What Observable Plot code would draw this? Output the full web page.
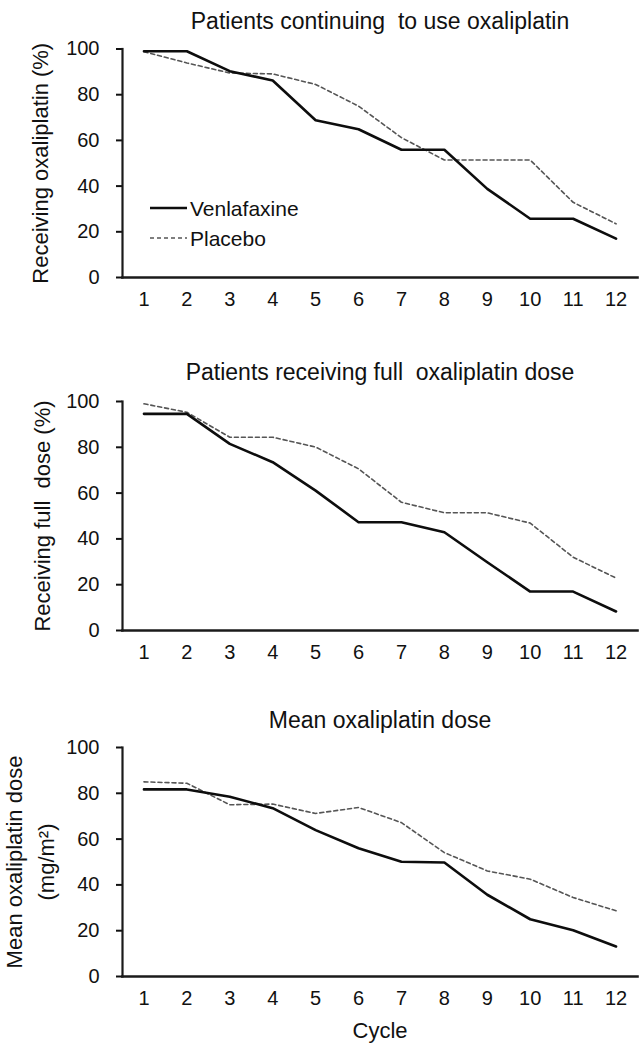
<!DOCTYPE html>
<html>
<head>
<meta charset="utf-8">
<script src="https://cdn.jsdelivr.net/npm/d3@7"></script>
<script src="https://cdn.jsdelivr.net/npm/@observablehq/plot@0.6"></script>
<style>
  body { margin: 0; background: #fff; font-family: "Liberation Sans", Arial, sans-serif; }
  #wrap { position: relative; width: 639px; height: 1050px; overflow: hidden; }
  #wrap svg.plot { display: block; }
  #legend { position: absolute; left: 0; top: 0; pointer-events: none; }
</style>
</head>
<body>
<div id="wrap"></div>
<script>
// ---- data ----
const cycles = [1, 2, 3, 4, 5, 6, 7, 8, 9, 10, 11, 12];
const yTicks = [0, 20, 40, 60, 80, 100];
const seriesNames = ["Venlafaxine", "Placebo"];

// Panel 1: Patients continuing to use oxaliplatin (%)
const continueVenlafaxine = [99, 99, 90.3, 86.2, 68.8, 64.9, 55.9, 55.9, 38.8, 25.7, 25.7, 17.0];
const continuePlacebo     = [98.8, 93.9, 89.5, 89.1, 84.5, 75.0, 61.2, 51.4, 51.4, 51.4, 32.9, 23.5];

// Panel 2: Patients receiving full oxaliplatin dose (%)
const fullVenlafaxine = [94.6, 94.6, 81.5, 73.5, 61.1, 47.3, 47.3, 42.9, 29.8, 17.0, 17.0, 8.3];
const fullPlacebo     = [99.0, 95.3, 84.4, 84.4, 80.1, 70.6, 56.0, 51.4, 51.4, 46.9, 32.0, 22.9];

// Panel 3: Mean oxaliplatin dose (mg/m2)
const meanVenlafaxine = [81.7, 81.7, 78.5, 73.5, 63.9, 56.0, 50.1, 49.8, 35.7, 25.0, 20.2, 13.1];
const meanPlacebo     = [85.0, 84.4, 75.0, 75.3, 71.2, 73.8, 67.2, 54.1, 46.1, 42.5, 34.5, 28.7];

const titles  = ["Patients continuing  to use oxaliplatin", "Patients receiving full  oxaliplatin dose", "Mean oxaliplatin dose"];
const yLabels = ["Receiving oxaliplatin (%)", "Receiving full  dose (%)", "Mean oxaliplatin dose\n(mg/m\u00B2)"];
const xLabel  = "Cycle";

// ---- drawing ----
const FONT = "'Liberation Sans', Arial, sans-serif";
const INK = "#111";

function makePanel(cfg) {
  const rows = [];
  cycles.forEach((c, i) => {
    rows.push({cycle: c, value: cfg.ven[i], series: seriesNames[0]});
    rows.push({cycle: c, value: cfg.pla[i], series: seriesNames[1]});
  });
  const marks = [
    Plot.axisX({ticks: cycles, tickSize: 0, tickPadding: 14, label: null, fontSize: 20, tickFormat: d => String(d)}),
    Plot.axisY({ticks: yTicks, tickSize: 6, tickPadding: 17, label: null, fontSize: 20, strokeWidth: 2}),
    Plot.frame({anchor: "left", stroke: "#1a1a1a", strokeWidth: 2.2}),
    Plot.frame({anchor: "bottom", stroke: "#1a1a1a", strokeWidth: 2.6}),
    Plot.line(rows.filter(d => d.series === seriesNames[1]), {x: "cycle", y: "value", stroke: "#555", strokeWidth: 1.6, strokeDasharray: "4,3"}),
    Plot.line(rows.filter(d => d.series === seriesNames[0]), {x: "cycle", y: "value", stroke: "#0d0d0d", strokeWidth: 2.6}),
    Plot.text([cfg.title], {frameAnchor: "top", dy: cfg.titleDy, fontSize: 23, fill: INK}),
    Plot.text([cfg.ylabel], {frameAnchor: "left", textAnchor: "middle", rotate: -90, dx: cfg.ylabelDx, fontSize: 22, lineHeight: 1.45, fill: INK})
  ];
  if (cfg.xlabel) marks.push(Plot.text([cfg.xlabel], {frameAnchor: "bottom", dy: cfg.xlabelDy, fontSize: 22, fill: INK}));
  return Plot.plot({
    width: 639,
    height: cfg.height,
    marginTop: cfg.top,
    marginBottom: cfg.height - cfg.bottom,
    marginLeft: 122,
    marginRight: 2,
    style: {fontFamily: FONT, fontSize: "20px", color: INK, background: "#fff", overflow: "visible"},
    x: {type: "linear", domain: [0.5, 12.5]},
    y: {type: "linear", domain: [0, 100]},
    marks
  });
}

const wrap = document.getElementById("wrap");
wrap.appendChild(makePanel({title: titles[0], ylabel: yLabels[0], ven: continueVenlafaxine, pla: continuePlacebo,
  height: 350, top: 48.5, bottom: 277, titleDy: -36, ylabelDx: -85}));
wrap.appendChild(makePanel({title: titles[1], ylabel: yLabels[1], ven: fullVenlafaxine, pla: fullPlacebo,
  height: 350, top: 51, bottom: 280, titleDy: -38, ylabelDx: -83}));
wrap.appendChild(makePanel({title: titles[2], ylabel: yLabels[2], ven: meanVenlafaxine, pla: meanPlacebo,
  height: 350, top: 47, bottom: 276, titleDy: -35.5, ylabelDx: -95, xlabel: xLabel, xlabelDy: 61}));

// legend (panel 1)
const leg = d3.select(wrap).append("svg").attr("id", "legend").attr("width", 639).attr("height", 350);
const legItems = [
  {name: seriesNames[0], y: 208, stroke: "#0d0d0d", width: 2.6, dash: null},
  {name: seriesNames[1], y: 238, stroke: "#555", width: 1.6, dash: "4,3"}
];
legItems.forEach(it => {
  leg.append("line").attr("x1", 150).attr("x2", 187).attr("y1", it.y).attr("y2", it.y)
    .attr("stroke", it.stroke).attr("stroke-width", it.width).attr("stroke-dasharray", it.dash);
  leg.append("text").attr("x", 190).attr("y", it.y).attr("dy", "0.36em")
    .attr("font-family", FONT).attr("font-size", 21).attr("fill", INK).text(it.name);
});
</script>
</body>
</html>
